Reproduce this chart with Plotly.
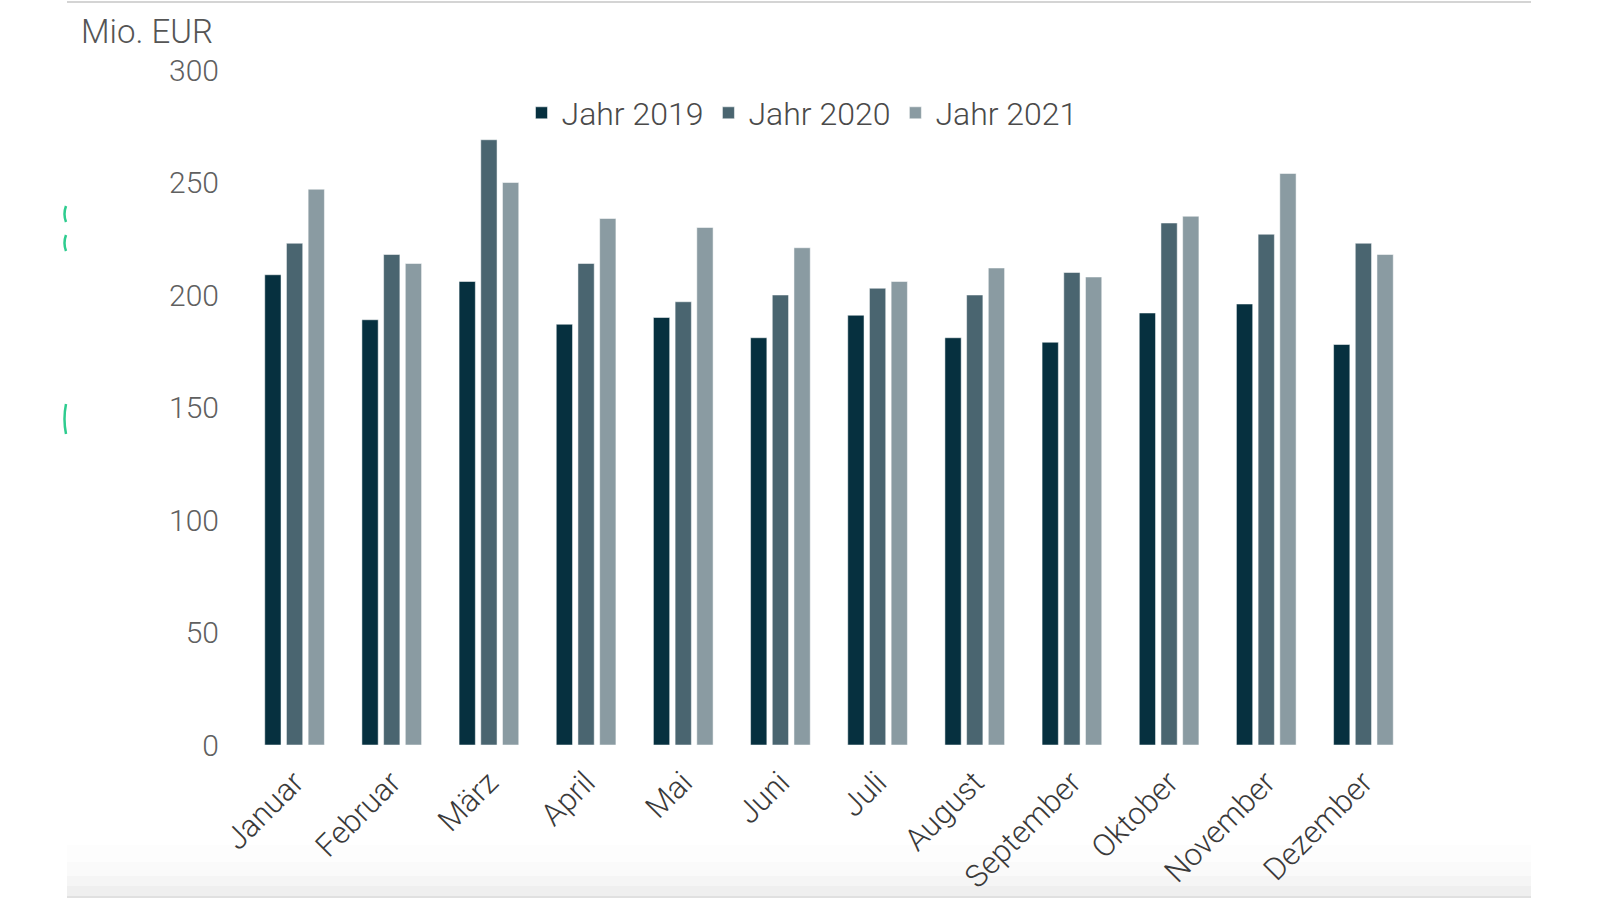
import plotly.graph_objects as go

months = ["Januar", "Februar", "März", "April", "Mai", "Juni", "Juli",
          "August", "September", "Oktober", "November", "Dezember"]
jahr_2019 = [209, 189, 206, 187, 190, 181, 191, 181, 179, 192, 196, 178]
jahr_2020 = [223, 218, 269, 214, 197, 200, 203, 200, 210, 232, 227, 223]
jahr_2021 = [247, 214, 250, 234, 230, 221, 206, 212, 208, 235, 254, 218]
y_ticks = [0, 50, 100, 150, 200, 250, 300]

colors = ["#06303F", "#4A6570", "#8A9BA2"]
series = [("Jahr 2019", jahr_2019), ("Jahr 2020", jahr_2020), ("Jahr 2021", jahr_2021)]

W, H = 1600, 900
L, R, T, B = 246, 188, 70, 155
PW, PH = W - L - R, H - T - B

def px(x):
    return (x - L) / PW

def py(y):
    return 1 - (y - T) / PH

FONT = "Roboto"

fig = go.Figure()
for (name, vals), c in zip(series, colors):
    fig.add_trace(go.Bar(
        x=months, y=vals, name=name,
        marker=dict(color=c, line=dict(color="rgba(255,255,255,0.5)", width=1)),
    ))

shapes = [
    dict(type="line", xref="paper", yref="paper", x0=px(67), x1=px(1531),
         y0=py(2), y1=py(2), line=dict(color="#d4d4d4", width=2)),
]
# soft grey fade at bottom of card
for (y0, op) in [(845, 0.008), (862, 0.012), (876, 0.018), (886, 0.025)]:
    shapes.append(dict(type="rect", xref="paper", yref="paper", x0=px(67), x1=px(1531),
                       y0=py(y0), y1=py(896), fillcolor="rgba(0,0,0,%s)" % op,
                       line=dict(width=0), layer="below"))
shapes.append(dict(type="line", xref="paper", yref="paper", x0=px(67), x1=px(1531),
                   y0=py(897), y1=py(897), line=dict(color="#e0e0e0", width=2)))
# clipped green glyph fragments at left edge
for (ya, yb) in [(206, 222), (235, 251), (404, 434)]:
    x0, x1 = px(66), px(63)
    ym = (py(ya) + py(yb)) / 2
    shapes.append(dict(type="path", xref="paper", yref="paper",
                       path="M %f,%f Q %f,%f %f,%f" % (x0, py(ya), x1, ym, x0, py(yb)),
                       line=dict(color="#2ecc8f", width=2.5)))

fig.update_layout(
    width=W, height=H,
    margin=dict(l=L, r=R, t=T, b=B, autoexpand=False),
    paper_bgcolor="white", plot_bgcolor="white",
    barmode="group", bargap=0.33, bargroupgap=0.25,
    font=dict(family=FONT, color="#555555", weight=300),
    legend=dict(orientation="h", x=px(802), xanchor="center", y=py(113), yanchor="middle",
                font=dict(size=32, color="#4a4a4a", family=FONT, weight=300),
                traceorder="normal"),
    showlegend=True,
    shapes=shapes,
    annotations=[dict(text="Mio. EUR", xref="paper", yref="paper", x=px(79), y=py(31),
                      xanchor="left", yanchor="middle", showarrow=False,
                      font=dict(size=33, color="#555555", family=FONT, weight=300))],
)
fig.update_xaxes(tickangle=-45, tickfont=dict(size=31, color="#3a3a3a", family=FONT, weight=300),
                 showline=False, showgrid=False, ticks="", automargin=False,
                 ticklabelstandoff=12)
fig.update_yaxes(range=[0, 300], tickvals=y_ticks, showgrid=False, zeroline=False,
                 showline=False, ticks="", ticklabelstandoff=26,
                 tickfont=dict(size=30, color="#606060", family=FONT, weight=300), automargin=False)

fig.write_html("out.html", config={"displayModeBar": False},
               post_script="document.body.style.margin='0';")
